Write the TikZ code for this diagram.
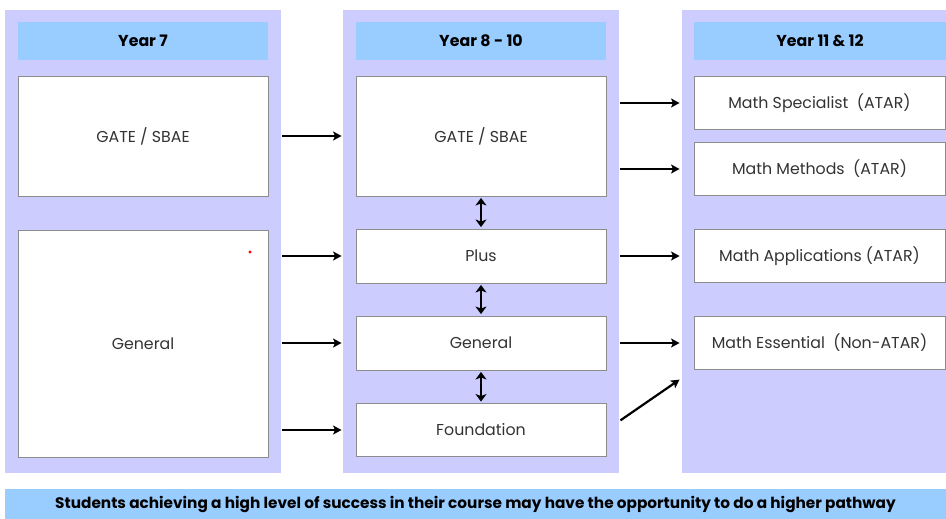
\documentclass[tikz,border=0pt]{standalone}
\usepackage{fontspec}
\setmainfont{Poppins}
\usetikzlibrary{arrows.meta}
\definecolor{lavender}{HTML}{CCCCFF}
\definecolor{skyblue}{HTML}{99CCFF}
\definecolor{boxgray}{HTML}{8C8C8C}
\definecolor{textgray}{HTML}{333333}
\tikzstyle{column}=[fill=lavender, inner sep=0pt]
\tikzstyle{header}=[fill=skyblue, inner sep=0pt, minimum height=38pt, font=\bfseries\fontsize{15.8}{18}\selectfont]
\tikzstyle{course}=[draw=boxgray, line width=0.9pt, fill=white, inner sep=0pt, text=textgray, font=\fontsize{15.8}{18}\selectfont]
\tikzstyle{pathway}=[-{Stealth[length=8.5pt, width=9pt, inset=2pt]}, line width=2.2pt, shorten <=14pt, shorten >=14pt]
\tikzstyle{swap}=[{Stealth[length=7.5pt, width=11pt, inset=2pt]}-{Stealth[length=7.5pt, width=11pt, inset=2pt]}, line width=2.4pt, shorten <=1.5pt, shorten >=1.5pt]

\begin{document}
\begin{tikzpicture}[x=1pt, y=-1pt]
        \useasboundingbox (0, 0) rectangle (946, 519);
        % columns
        \node[column, minimum width=276pt, minimum height=463pt] (C1) at (143, 241.5) {};
        \node[column, minimum width=276pt, minimum height=463pt] (C2) at (481, 241.5) {};
        \node[column, minimum width=264pt, minimum height=463pt] (C3) at (814, 241.5) {};
        \node[header, minimum width=250pt] (H1) at (143, 41) {Year 7};
        \node[header, minimum width=250pt] (H2) at (481, 41) {Year 8 - 10};
        \node[header, minimum width=252pt] (H3) at (820, 41) {Year 11 \& 12};
        % year 7
        \node[course, minimum width=250pt, minimum height=120pt] (gate7) at (143, 136) {GATE / SBAE};
        \node[course, minimum width=250pt, minimum height=227pt] (gen7) at (143, 343.5) {General};
        \fill[red] (250, 252) circle (1.6pt);
        % year 8 - 10
        \node[course, minimum width=250pt, minimum height=120pt] (gate8) at (481, 136) {GATE / SBAE};
        \node[course, minimum width=250pt, minimum height=54pt] (plus) at (481, 256) {Plus};
        \node[course, minimum width=250pt, minimum height=54pt] (gen8) at (481, 343) {General};
        \node[course, minimum width=250pt, minimum height=53pt] (found) at (481, 430) {Foundation};
        % year 11 & 12
        \node[course, minimum width=251pt, minimum height=53pt] (spec) at (819.5, 103) {Math Specialist\ \ (ATAR)};
        \node[course, minimum width=251pt, minimum height=53pt] (meth) at (819.5, 169) {Math Methods\ \ (ATAR)};
        \node[course, minimum width=251pt, minimum height=53pt] (appl) at (819.5, 256) {Math Applications (ATAR)};
        \node[course, minimum width=251pt, minimum height=53pt] (ess) at (819.5, 343) {Math Essential\ \ (Non-ATAR)};
        % banner
        \node[fill=skyblue, inner sep=0pt, minimum width=941pt, minimum height=30pt,
              font=\bfseries\fontsize{15.3}{17}\selectfont] (note) at (475.5, 504)
              {Students achieving a high level of success in their course may have the opportunity to do a higher pathway};
        % arrows
        \draw[pathway] (gate7) -- (gate8);
        \draw[pathway] (gen7.east |- plus) -- (plus);
        \draw[pathway] (gen7.east |- gen8) -- (gen8);
        \draw[pathway] (gen7.east |- found) -- (found);
        \draw[pathway] (gate8.east |- spec) -- (spec);
        \draw[pathway] (gate8.east |- meth) -- (meth);
        \draw[pathway] (plus) -- (appl);
        \draw[pathway] (gen8) -- (ess);
        \draw[pathway, shorten <=17pt, shorten >=17pt] (found.east) -- (ess.south west);
        \draw[swap] (gate8) -- (plus);
        \draw[swap] (plus) -- (gen8);
        \draw[swap] (gen8) -- (found);
    \end{tikzpicture}
\end{document}
